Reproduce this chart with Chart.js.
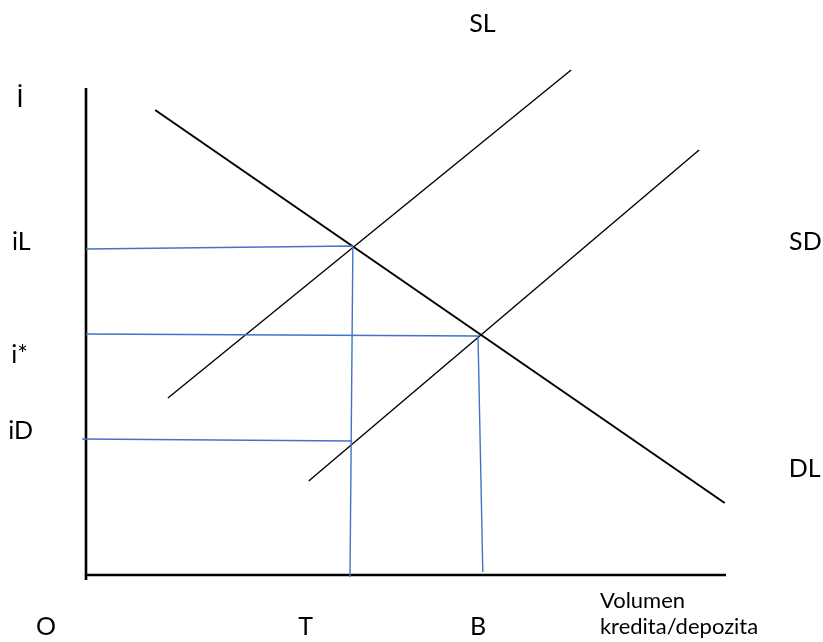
<!DOCTYPE html>
<html>
<head>
<meta charset="utf-8">
<script src="https://cdn.jsdelivr.net/npm/chart.js@4"></script>
<style>
  html, body { margin: 0; padding: 0; background: #fff; }
  #wrap { width: 823px; height: 642px; position: relative; }
</style>
</head>
<body>
<div id="wrap"><canvas id="market"></canvas></div>
<script>
// curves, in chart units (x: volume 0-100, y: interest 0-105)
const slX = [12.8, 75.8];
const slY = [35.4, 101];
const sdX = [34.8, 95.8];
const sdY = [18.8, 85];
const dlX = [10.8, 99.8];
const dlY = [93, 14.4];

// guide lines (blue)
const iLX = [0, 41.7, 41.25];
const iLY = [65.2, 65.8, -0.4];
const iStarX = [0, 61.25, 62];
const iStarY = [48.2, 47.8, 0.6];
const iDX = [-0.6, 41.6];
const iDY = [27.2, 26.8];

// axes
const yAxisX = [0, 0];
const yAxisY = [-1, 97.4];
const xAxisX = [0, 100];
const xAxisY = [0, 0];

// labels (anchor = baseline centre, in chart units)
const yTickLabels = ["İ", "iL", "i*", "iD"];
const yTickX = [-10.3, -10.1, -10.4, -10.2];
const yTickY = [93.6, 65, 42.4, 27.2];
const xTickLabels = ["O", "T", "B"];
const xTickX = [-6.25, 34.3, 61.25];
const xTickY = [-12, -12, -12];
const curveNames = ["SL", "SD", "DL"];
const curveNameX = [61.95, 112.4, 112.3];
const curveNameY = [108.7, 65, 19.6];
const xTitle = ["Volumen", "kredita/depozita"];
const xTitleX = [80.3, 80.3];
const xTitleY = [-6.6, -11.8];

const pts = (xs, ys) => xs.map((x, i) => ({ x, y: ys[i] }));

function seg(xs, ys, color, width) {
    return {
        data: pts(xs, ys),
        showLine: true,
        borderColor: color,
        borderWidth: width,
        pointRadius: 0,
        fill: false,
        clip: false
    };
}

const BLUE = "#4472c4";

const labelPlugin = {
    id: "labels",
    afterDatasetsDraw(chart) {
        const { ctx, scales: { x, y } } = chart;
        ctx.save();
        ctx.fillStyle = "#000";
        ctx.textBaseline = "alphabetic";

        ctx.font = "25px Lato";
        ctx.textAlign = "center";
        yTickLabels.forEach((t, i) =>
            ctx.fillText(t, x.getPixelForValue(yTickX[i]), y.getPixelForValue(yTickY[i])));
        xTickLabels.forEach((t, i) =>
            ctx.fillText(t, x.getPixelForValue(xTickX[i]), y.getPixelForValue(xTickY[i])));
        curveNames.forEach((t, i) =>
            ctx.fillText(t, x.getPixelForValue(curveNameX[i]), y.getPixelForValue(curveNameY[i])));

        ctx.font = "22px Lato";
        ctx.textAlign = "left";
        xTitle.forEach((t, i) =>
            ctx.fillText(t, x.getPixelForValue(xTitleX[i]), y.getPixelForValue(xTitleY[i])));
        ctx.restore();
    }
};

new Chart(document.getElementById("market"), {
    type: "scatter",
    data: {
        datasets: [
            seg(iLX, iLY, BLUE, 1.4),
            seg(iStarX, iStarY, BLUE, 1.4),
            seg(iDX, iDY, BLUE, 1.4),
            seg(slX, slY, "#000", 1.4),
            seg(sdX, sdY, "#000", 1.4),
            seg(dlX, dlY, "#000", 2),
            seg(yAxisX, yAxisY, "#000", 2.6),
            seg(xAxisX, xAxisY, "#000", 2.6)
        ]
    },
    options: {
        responsive: true,
        maintainAspectRatio: false,
        animation: false,
        layout: { padding: { left: 86, right: 97, top: 50, bottom: 67 } },
        plugins: { legend: { display: false }, tooltip: { enabled: false } },
        scales: {
            x: { type: "linear", min: 0, max: 100, display: false },
            y: { type: "linear", min: 0, max: 105, display: false }
        }
    },
    plugins: [labelPlugin]
});
</script>
</body>
</html>
